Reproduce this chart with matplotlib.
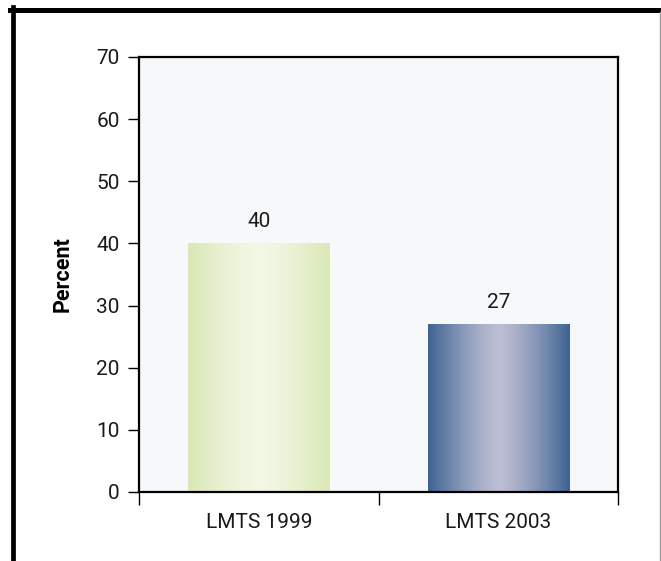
import matplotlib.pyplot as plt
import numpy as np
from matplotlib.lines import Line2D

labels = ['LMTS 1999', 'LMTS 2003']
values = [40, 27]
edge_cols = ['#d9e8b6', '#3e6392']
mid_cols = ['#f3f7e6', '#bdbed3']

plt.rcParams['font.family'] = ['Roboto', 'DejaVu Sans']
plt.rcParams['text.color'] = '#1a1a1a'

fig = plt.figure(figsize=(6.61, 5.61), dpi=100)
ax = fig.add_axes([0.2103, 0.123, 0.7247, 0.7754])
ax.set_facecolor('#f7f8fa')

w = 0.59
for i, v in enumerate(values):
    bar = ax.bar(i, v, width=w, color='none', edgecolor='none')[0]
    c0 = np.array(plt.matplotlib.colors.to_rgb(edge_cols[i]))
    c1 = np.array(plt.matplotlib.colors.to_rgb(mid_cols[i]))
    t = np.linspace(-1, 1, 256)
    f = np.clip(1 - np.abs(t) ** 1.3, 0, 1)
    grad = c0[None, :] * (1 - f[:, None]) + c1[None, :] * f[:, None]
    im = ax.imshow(grad[None, :, :], extent=[i - w / 2, i + w / 2, 0, v],
                   aspect='auto', zorder=2)
    im.set_clip_path(bar)
    ax.text(i, v + 2.6, str(v), ha='center', va='baseline', fontsize=15)

ax.set_xlim(-0.5, 1.5)
ax.set_ylim(0, 70)
ax.set_yticks(range(0, 71, 10))
ax.set_xticks([-0.5, 0.5, 1.5])
ax.set_xticklabels([])
ax.set_xticks([0, 1], minor=True)
ax.set_xticklabels(labels, minor=True, fontsize=15)
ax.tick_params(axis='x', which='minor', length=0, pad=15, labelcolor='#1a1a1a')
ax.tick_params(axis='x', which='major', length=9, width=1, direction='out')
ax.tick_params(axis='y', length=8, width=1, direction='out', pad=6, labelsize=15,
               labelcolor='#1a1a1a')
for s in ax.spines.values():
    s.set_linewidth(1.6)
ax.set_ylabel('Percent', fontsize=15.5, fontweight='bold', labelpad=16)

# outer frame
fig.add_artist(Line2D([10 / 661, 1], [1 - 9.5 / 561] * 2, color='black', lw=3.6,
                      transform=fig.transFigure))
fig.add_artist(Line2D([13 / 661] * 2, [0, 1 - 7 / 561], color='black', lw=3.4,
                      transform=fig.transFigure))
fig.add_artist(Line2D([659.5 / 661] * 2, [0, 1 - 12 / 561], color='#999999', lw=1,
                      transform=fig.transFigure))

fig.savefig('out.png', dpi=100)
